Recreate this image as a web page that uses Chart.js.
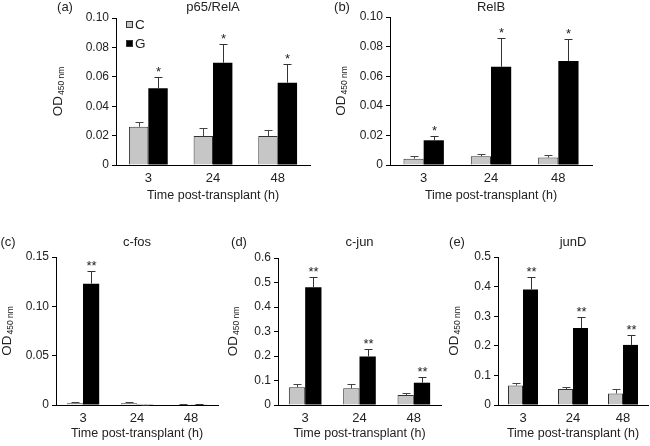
<!DOCTYPE html>
<html>
<head>
<meta charset="utf-8">
<script src="https://cdn.jsdelivr.net/npm/chart.js@4.4.1/dist/chart.umd.min.js"></script>
<style>
  html, body { margin: 0; padding: 0; background: #fff; }
  #wrap { position: relative; width: 650px; height: 446px; }
  #wrap canvas { position: absolute; left: 0; top: 0; }
</style>
</head>
<body>
<div id="wrap">
  <canvas id="panel-a" width="650" height="446"></canvas>
  <canvas id="panel-b" width="650" height="446"></canvas>
  <canvas id="panel-c" width="650" height="446"></canvas>
  <canvas id="panel-d" width="650" height="446"></canvas>
  <canvas id="panel-e" width="650" height="446"></canvas>
</div>
<script>
const categories = ['3', '24', '48'];
const seriesNames = ['C', 'G'];

// (a) p65/RelA
const relaC = [0.026, 0.0197, 0.0197];
const relaCErr = [0.003, 0.0053, 0.0041];
const relaG = [0.0522, 0.0696, 0.056];
const relaGErr = [0.0075, 0.0129, 0.0125];
const relaStars = ['*', '*', '*'];
const relaTicks = ['0', '0.02', '0.04', '0.06', '0.08', '0.10'];

// (b) RelB
const relbC = [0.0043, 0.0059, 0.005];
const relbCErr = [0.0016, 0.0013, 0.0018];
const relbG = [0.0167, 0.0664, 0.0703];
const relbGErr = [0.0029, 0.0194, 0.0151];
const relbStars = ['*', '*', '*'];
const relbTicks = ['0', '0.02', '0.04', '0.06', '0.08', '0.10'];

// (c) c-fos
const cfosC = [0.0017, 0.0017, 0.0005];
const cfosCErr = [0.001, 0.001, 0.0004];
const cfosG = [0.123, 0.0003, 0.0006];
const cfosGErr = [0.013, 0.0002, 0.0003];
const cfosStars = ['**', '', ''];
const cfosTicks = ['0', '0.05', '0.10', '0.15'];

// (d) c-jun
const cjunC = [0.072, 0.068, 0.041];
const cjunCErr = [0.013, 0.019, 0.008];
const cjunG = [0.481, 0.198, 0.091];
const cjunGErr = [0.041, 0.030, 0.025];
const cjunStars = ['**', '**', '**'];
const cjunTicks = ['0', '0.1', '0.2', '0.3', '0.4', '0.5', '0.6'];

// (e) junD
const jundC = [0.066, 0.054, 0.039];
const jundCErr = [0.010, 0.007, 0.015];
const jundG = [0.390, 0.260, 0.203];
const jundGErr = [0.043, 0.037, 0.033];
const jundStars = ['**', '**', '**'];
const jundTicks = ['0', '0.1', '0.2', '0.3', '0.4', '0.5'];

const FONT = "'Liberation Sans', Arial, Helvetica, sans-serif";
const TEXT = '#222';
const GREY = '#c6c6c6';

// draws error bars, stars, panel letter, title, y title and legend
const decoPlugin = {
  id: 'deco',
  afterDatasetsDraw(chart) {
    const ctx = chart.ctx;
    const y = chart.scales.y;
    ctx.save();
    chart.data.datasets.forEach((ds, i) => {
      const meta = chart.getDatasetMeta(i);
      meta.data.forEach((bar, j) => {
        const top = Math.round(y.getPixelForValue(ds.data[j] + ds.errors[j])) + 0.5;
        const x = Math.round(bar.x) + 0.5;
        ctx.strokeStyle = ds.errColor;
        ctx.lineWidth = 1;
        ctx.beginPath();
        ctx.moveTo(x, bar.y);
        ctx.lineTo(x, top);
        ctx.moveTo(x - 4, top);
        ctx.lineTo(x + 4, top);
        ctx.stroke();
        if (ds.stars && ds.stars[j]) {
          ctx.fillStyle = TEXT;
          ctx.font = '13px ' + FONT;
          ctx.textAlign = 'center';
          ctx.textBaseline = 'alphabetic';
          ctx.fillText(ds.stars[j], x, top - 2);
        }
      });
    });
    ctx.restore();
  },
  afterDraw(chart, args, o) {
    const ctx = chart.ctx;
    const a = chart.chartArea;
    ctx.save();
    ctx.fillStyle = TEXT;
    ctx.textBaseline = 'middle';
    ctx.textAlign = 'center';
    ctx.font = '13px ' + FONT;
    ctx.fillText(o.letter, o.letterX, o.headY);
    ctx.fillText(o.title, (a.left + a.right) / 2, o.headY);

    // y title: OD with subscript 450 nm
    const big = '13.5px ' + FONT, small = '8.5px ' + FONT;
    ctx.font = big;
    const w1 = ctx.measureText('OD').width;
    ctx.font = small;
    const w2 = ctx.measureText('450 nm').width;
    ctx.translate(o.yTitleX, (a.top + a.bottom) / 2);
    ctx.rotate(-Math.PI / 2);
    ctx.textAlign = 'left';
    const start = -(w1 + w2 + 1) / 2;
    ctx.font = big;
    ctx.fillText('OD', start, 0);
    ctx.font = small;
    ctx.fillText('450 nm', start + w1 + 1, 4);
    ctx.setTransform(1, 0, 0, 1, 0, 0);

    if (o.legend) {
      chart.data.datasets.forEach((ds, i) => {
        const lx = a.left + 10, ly = a.top + 3 + i * 19;
        ctx.fillStyle = ds.backgroundColor;
        ctx.fillRect(lx, ly, 7, 7);
        ctx.strokeStyle = '#333';
        ctx.lineWidth = 1;
        ctx.strokeRect(lx + 0.5, ly + 0.5, 6, 6);
        ctx.fillStyle = TEXT;
        ctx.font = '13.5px ' + FONT;
        ctx.textAlign = 'left';
        ctx.textBaseline = 'middle';
        ctx.fillText(ds.label, lx + 9, ly + 4);
      });
    }
    ctx.restore();
  }
};

const panels = [
  { id: 'panel-a', letter: '(a)', title: 'p65/RelA', c: relaC, cErr: relaCErr, g: relaG, gErr: relaGErr,
    stars: relaStars, ticks: relaTicks, legend: true,
    area: { l: 116, t: 18, r: 310, b: 165 }, xH: 38.5, letterX: 65, headY: 7, yTitleX: 58 },
  { id: 'panel-b', letter: '(b)', title: 'RelB', c: relbC, cErr: relbCErr, g: relbG, gErr: relbGErr,
    stars: relbStars, ticks: relbTicks, legend: false,
    area: { l: 390, t: 17, r: 592, b: 165 }, xH: 38.5, letterX: 342, headY: 7, yTitleX: 341 },
  { id: 'panel-c', letter: '(c)', title: 'c-fos', c: cfosC, cErr: cfosCErr, g: cfosG, gErr: cfosGErr,
    stars: cfosStars, ticks: cfosTicks, legend: false,
    area: { l: 56, t: 257, r: 218, b: 405 }, xH: 36, letterX: 8, headY: 242, yTitleX: 7 },
  { id: 'panel-d', letter: '(d)', title: 'c-jun', c: cjunC, cErr: cjunCErr, g: cjunG, gErr: cjunGErr,
    stars: cjunStars, ticks: cjunTicks, legend: false,
    area: { l: 278, t: 258, r: 441, b: 405 }, xH: 36, letterX: 239, headY: 242, yTitleX: 233 },
  { id: 'panel-e', letter: '(e)', title: 'junD', c: jundC, cErr: jundCErr, g: jundG, gErr: jundGErr,
    stars: jundStars, ticks: jundTicks, legend: false,
    area: { l: 498, t: 257, r: 648, b: 405 }, xH: 36, letterX: 457, headY: 242, yTitleX: 454 }
];

const Y_W = 50;

panels.forEach(p => {
  const ctx = document.getElementById(p.id).getContext('2d');
  new Chart(ctx, {
    type: 'bar',
    data: {
      labels: categories,
      datasets: [{
        label: seriesNames[0],
        data: p.c,
        errors: p.cErr,
        errColor: '#444',
        backgroundColor: GREY,
        borderColor: '#333',
        borderWidth: 1,
        categoryPercentage: 0.6,
        barPercentage: 1.0
      }, {
        label: seriesNames[1],
        data: p.g,
        errors: p.gErr,
        errColor: '#333',
        stars: p.stars,
        backgroundColor: '#000',
        borderWidth: 0,
        categoryPercentage: 0.6,
        barPercentage: 1.0
      }]
    },
    options: {
      responsive: false,
      animation: false,
      devicePixelRatio: 1,
      layout: {
        padding: {
          left: p.area.l - Y_W,
          top: p.area.t,
          right: 650 - p.area.r,
          bottom: 446 - p.area.b - p.xH
        }
      },
      scales: {
        x: {
          grid: { display: false, drawTicks: false },
          border: { display: true, color: '#000', width: 1 },
          ticks: { color: TEXT, font: { family: FONT, size: 13 }, padding: 6 },
          title: {
            display: true, text: 'Time post-transplant (h)', color: TEXT,
            font: { family: FONT, size: 12.5 }, padding: 0
          },
          afterFit: s => { s.height = p.xH; }
        },
        y: {
          min: 0,
          max: parseFloat(p.ticks[p.ticks.length - 1]),
          grid: { display: true, drawOnChartArea: false, drawTicks: true, tickLength: 4, color: '#000' },
          border: { display: true, color: '#000', width: 1 },
          ticks: {
            color: TEXT, font: { family: FONT, size: 12 }, padding: 3,
            callback: (v, i) => p.ticks[i]
          },
          afterBuildTicks: s => { s.ticks = p.ticks.map(t => ({ value: parseFloat(t) })); },
          afterFit: s => { s.width = Y_W; }
        }
      },
      plugins: {
        legend: { display: false },
        tooltip: { enabled: false },
        deco: {
          letter: p.letter, title: p.title, letterX: p.letterX, headY: p.headY,
          yTitleX: p.yTitleX, legend: p.legend
        }
      }
    },
    plugins: [decoPlugin]
  });
});
</script>
</body>
</html>
